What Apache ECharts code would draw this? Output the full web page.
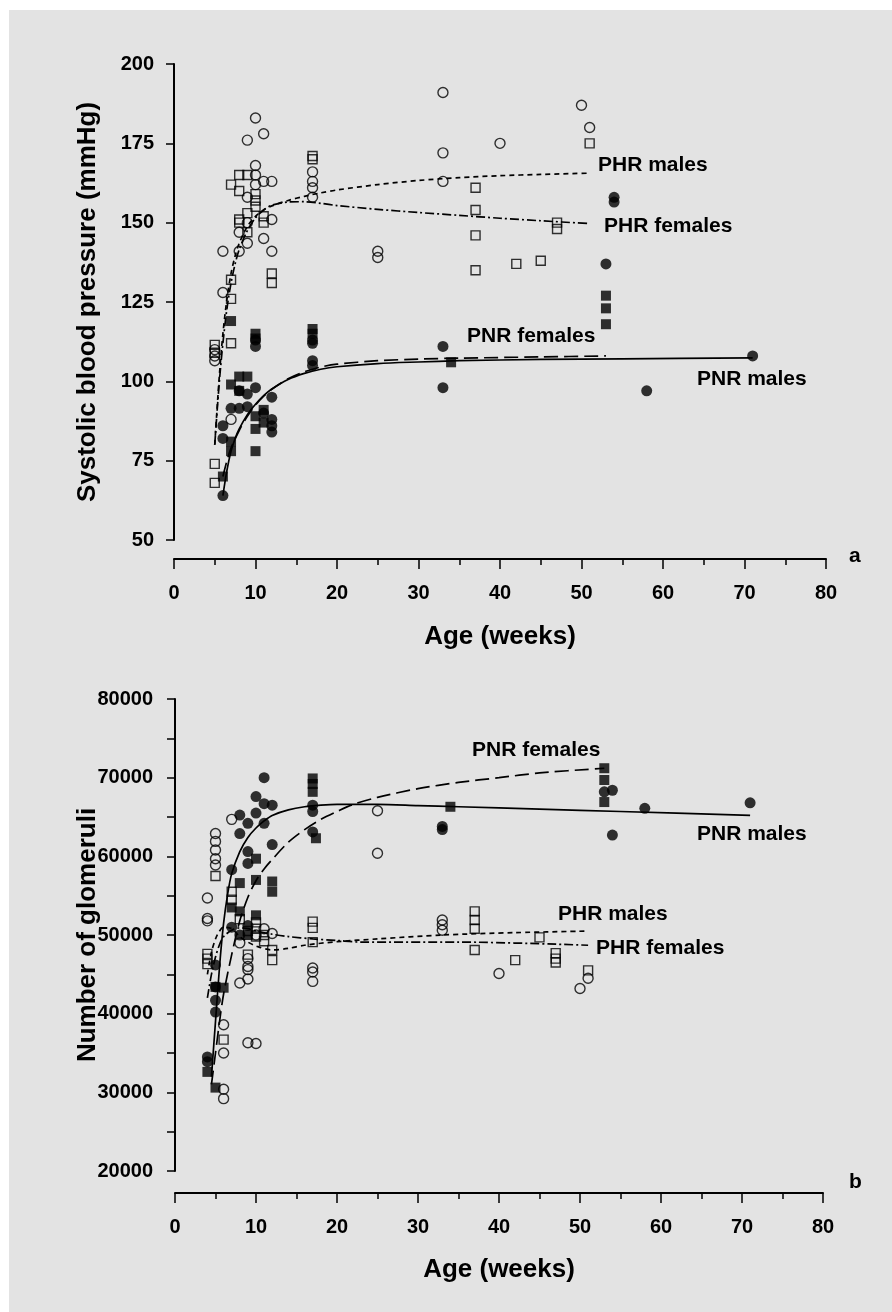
<!DOCTYPE html>
<html>
<head>
<meta charset="utf-8">
<script src="https://cdn.jsdelivr.net/npm/echarts@6/dist/echarts.min.js"></script>
<style>
  html, body { margin: 0; padding: 0; background: #fff; }
  #main { width: 892px; height: 1312px; }
</style>
</head>
<body>
<div id="main"></div>
<script>
var myChart = echarts.init(document.getElementById("main"));

// ---- panel a : systolic blood pressure (mmHg) vs age (weeks) ----
var bpPhrMales = [[5,110],[5,108],[5,106.5],[6,141],[6,128],[7,88],[8,141],[8,147],[9,176],[9,158],[9,150],[9,143.5],
    [10,183],[10,168],[10,165],[10,162],[11,178],[11,163],[11,145],[12,163],[12,151],[12,141],
    [17,166],[17,163],[17,161],[17,158],[25,141],[25,139],[33,191],[33,172],[33,163],[40,175],[50,187],[51,180]];
var bpPhrFemales = [[5,74],[5,68],[5,111.5],[5,109],[7,112],[7,126],[7,132],[7,162],[8,165],[8,160],[9,165],
    [10,159],[10,157],[10,155],[9,153],[8,151],[8,150],[11,152],[11,150],[9,147],[12,134],[12,131],
    [17,171],[17,170],[37,161],[37,154],[37,146],[37,135],[42,137],[45,138],[47,150],[47,148],[51,175]];
var bpPnrMales = [[6,64],[6,86],[6,82],[7,91.5],[8,91.5],[8,97],[9,92],[9,96],[10,98],[11,90],[12,95],[12,88],[12,86],[12,84],
    [10,113],[10,111],[17,113],[17,112],[17,106.5],[17,105],[33,111],[33,98],[53,137],[54,158],[54,156.5],[58,97],[71,108]];
var bpPnrFemales = [[6,70],[7,78],[7,81],[7,119],[7,99],[8,101.5],[9,101.5],[8,97],[10,115],[10,113.5],[10,78],[10,89],[10,85],
    [11,91],[11,87],[17,116.5],[17,115],[34,106],[53,127],[53,123],[53,118]];

var bpFitPhrMales = [[5,80],[5.3,92],[5.6,103],[6,115],[6.5,126],[7,134],[7.5,139.5],[8,143.5],[9,148.8],[10,152],[11,154],
    [12,155.3],[14,157],[16,158.3],[18,159.4],[20,160.3],[25,162],[30,163.3],[35,164.2],[40,164.8],[45,165.2],[51,165.6]];
var bpFitPhrFemales = [[5,80],[5.3,91],[5.6,101],[6,112],[6.5,123],[7,131],[7.5,137],[8,141.5],[9,147.5],[10,151.5],[11,154],
    [12,155.5],[14,156.5],[16,156.6],[18,156.1],[20,155.4],[25,154.2],[30,153.2],[35,152.3],[40,151.4],[45,150.6],[51,149.7]];
var bpFitPnrMales = [[6,64],[6.5,72],[7,78],[7.5,82],[8,85],[9,89.5],[10,92.8],[11,95.5],[12,97.6],[14,100.6],[16,102.5],
    [18,103.8],[20,104.6],[25,105.6],[30,106.1],[35,106.5],[45,106.9],[55,107.1],[71,107.4]];
var bpFitPnrFemales = [[6,70],[6.5,75],[7,79],[8,84.5],[9,89],[10,92.5],[11,95.3],[12,97.5],[14,100.8],[16,103],[18,104.5],
    [20,105.4],[25,106.5],[30,107],[35,107.3],[45,107.7],[53,108]];

// ---- panel b : number of glomeruli vs age (weeks) ----
var glPhrMales = [[4,54700],[4,52100],[4,51800],[5,62900],[5,61900],[5,60800],[5,59700],[5,58900],[7,64700],
    [6,38600],[6,35000],[6,30400],[6,29200],[8,43900],[9,44400],[9,46000],[9,45600],[9,36300],[10,36200],
    [8,49000],[9,47000],[10,50000],[11,50800],[12,50200],[17,45800],[17,45300],[17,44100],[25,65800],[25,60400],
    [33,51900],[33,51300],[33,50600],[40,45100],[50,43200],[51,44500]];
var glPhrFemales = [[4,47600],[4,47000],[4,46300],[5,57500],[6,36700],[7,55500],[7,54500],[8,52000],[9,50500],
    [10,51600],[10,50800],[10,49800],[11,49200],[11,50000],[12,48100],[12,46800],[9,47500],[17,51700],[17,50900],[17,49100],
    [37,53000],[37,51900],[37,50800],[37,48100],[42,46800],[45,49700],[47,47700],[47,47000],[47,46500],[51,45500]];
var glPnrMales = [[4,34500],[4,33900],[5,46200],[5,43400],[5,41700],[5,40200],[7,58300],[7,51000],[8,50000],[9,51200],
    [8,65250],[8,62900],[9,64200],[9,60600],[9,59100],[10,67600],[10,65500],[11,66700],[11,70000],[11,64200],
    [12,66500],[12,61500],[17,66500],[17,65700],[17,63100],[33,63800],[33,63400],[53,68200],[54,68400],[54,62700],[58,66100],[71,66800]];
var glPnrFemales = [[4,32600],[5,43400],[5,30600],[6,43300],[7,53500],[8,56600],[8,53000],[9,50000],[10,57000],[10,59700],
    [10,52500],[12,56800],[12,55500],[17,69900],[17,69200],[17,68200],[17.4,62300],[34,66300],[53,71200],[53,69700],[53,66900]];

var glFitPnrMales = [[4.5,32000],[5,39000],[5.5,46000],[6,51500],[6.5,55200],[7,57800],[8,60600],[9,62400],[10,63600],[11,64500],
    [12,65200],[14,65900],[16,66300],[18,66500],[20,66600],[25,66600],[30,66450],[35,66300],[45,66000],[55,65700],[71,65200]];
var glFitPnrFemales = [[4.5,31000],[5,35000],[5.5,39000],[6,42500],[7,47500],[8,51800],[9,54800],[10,56900],[11,58400],[12,59600],
    [14,61800],[16,63400],[18,64700],[20,65700],[22,66600],[25,67500],[30,68600],[35,69400],[40,70000],[45,70600],[53,71200]];
var glFitPhrMales = [[4,45000],[4.5,47800],[5,49500],[5.5,50500],[6,51000],[7,50800],[8,49800],[9,49100],[10,48600],[12,48100],
    [14,48300],[16,48700],[20,49150],[25,49500],[33,50000],[42,50300],[51,50500]];
var glFitPhrFemales = [[4,42000],[4.5,45000],[5,47200],[5.5,48800],[6,49800],[7,50600],[8,50900],[9,50800],[10,50500],[12,50100],
    [14,49800],[17,49500],[20,49300],[23,49100],[35,49100],[51,48700]];

var FONT = '"Liberation Sans", Arial, sans-serif';
var labelStyle = { color: '#000', fontSize: 20, fontWeight: 'bold', fontFamily: FONT };
var nameStyle = { color: '#000', fontSize: 26, fontWeight: 'bold', fontFamily: FONT };
var axisLine = { onZero: false, lineStyle: { color: '#000', width: 2 } };

function xAxisFor(grid, offset, gap) {
    return {
        gridIndex: grid, type: 'value', min: 0, max: 80, interval: 10, offset: offset,
        axisLine: axisLine,
        axisTick: { length: 10, lineStyle: { color: '#000', width: 1.5 } },
        minorTick: { show: true, splitNumber: 2, length: 6, lineStyle: { color: '#000', width: 1.5 } },
        splitLine: { show: false },
        axisLabel: Object.assign({ margin: 24 }, labelStyle),
        name: 'Age (weeks)', nameLocation: 'middle', nameGap: gap, nameMoveOverlap: false, nameTextStyle: nameStyle
    };
}

function open(name, sym, data, xi) {
    return {
        name: name, type: 'scatter', symbol: sym, symbolSize: sym === 'rect' ? 9 : 10,
        xAxisIndex: xi, yAxisIndex: xi, data: data,
        itemStyle: { color: 'transparent', borderColor: '#000', borderWidth: 1.4 }
    };
}
function filled(name, sym, data, xi) {
    return {
        name: name, type: 'scatter', symbol: sym, symbolSize: sym === 'rect' ? 10 : 11,
        xAxisIndex: xi, yAxisIndex: xi, data: data,
        itemStyle: { color: '#000' }
    };
}
function fit(name, data, xi, dash) {
    return {
        name: name, type: 'line', xAxisIndex: xi, yAxisIndex: xi, data: data,
        smooth: 0.3, showSymbol: false, symbol: 'none', z: 5,
        lineStyle: { color: '#000', width: 1.7, type: dash }
    };
}

function tag(text, left, top) {
    return { type: 'text', left: left, top: top, z: 10,
        style: { text: text, fill: '#000', font: 'bold 21px ' + FONT } };
}

var option = {
    animation: false,
    graphic: [
        { type: 'rect', shape: { x: 9, y: 10, width: 883, height: 1302 }, style: { fill: '#e3e3e3' }, z: -100 },
        tag('PHR males', 598, 155),
        tag('PHR females', 604, 216),
        tag('PNR females', 467, 326),
        tag('PNR males', 697, 369),
        tag('a', 849, 546),
        tag('PNR females', 472, 740),
        tag('PNR males', 697, 824),
        tag('PHR males', 558, 904),
        tag('PHR females', 596, 938),
        tag('b', 849, 1172)
    ],
    grid: [
        { left: 174, right: 66, top: 64, height: 476 },
        { left: 175, right: 69, top: 699, height: 472 }
    ],
    xAxis: [xAxisFor(0, 19, 65), xAxisFor(1, 22, 64)],
    yAxis: [
        {
            gridIndex: 0, type: 'value', min: 50, max: 200, interval: 25,
            axisLine: axisLine,
            axisTick: { length: 8, lineStyle: { color: '#000', width: 1.5 } },
            splitLine: { show: false },
            axisLabel: Object.assign({ margin: 20 }, labelStyle),
            name: 'Systolic blood pressure (mmHg)', nameLocation: 'middle', nameGap: 73, nameMoveOverlap: false,
            nameTextStyle: nameStyle
        },
        {
            gridIndex: 1, type: 'value', min: 20000, max: 80000, interval: 10000,
            axisLine: axisLine,
            axisTick: { length: 8, lineStyle: { color: '#000', width: 1.5 } },
            minorTick: { show: true, splitNumber: 2, length: 8, lineStyle: { color: '#000', width: 1.5 } },
            splitLine: { show: false },
            axisLabel: Object.assign({ margin: 22, formatter: function (v) { return String(v); } }, labelStyle),
            name: 'Number of glomeruli', nameLocation: 'middle', nameGap: 74, nameMoveOverlap: false,
            nameTextStyle: nameStyle
        }
    ],
    series: [
        open('PHR males', 'circle', bpPhrMales, 0),
        open('PHR females', 'rect', bpPhrFemales, 0),
        filled('PNR males', 'circle', bpPnrMales, 0),
        filled('PNR females', 'rect', bpPnrFemales, 0),
        fit('PHR males fit', bpFitPhrMales, 0, [5, 4]),
        fit('PHR females fit', bpFitPhrFemales, 0, [9, 3, 2, 3]),
        fit('PNR males fit', bpFitPnrMales, 0, 'solid'),
        fit('PNR females fit', bpFitPnrFemales, 0, [14, 6]),

        open('PHR males', 'circle', glPhrMales, 1),
        open('PHR females', 'rect', glPhrFemales, 1),
        filled('PNR males', 'circle', glPnrMales, 1),
        filled('PNR females', 'rect', glPnrFemales, 1),
        fit('PHR males fit', glFitPhrMales, 1, [5, 4]),
        fit('PHR females fit', glFitPhrFemales, 1, [9, 3, 2, 3]),
        fit('PNR males fit', glFitPnrMales, 1, 'solid'),
        fit('PNR females fit', glFitPnrFemales, 1, [14, 6])
    ]
};

myChart.setOption(option);
</script>
</body>
</html>
